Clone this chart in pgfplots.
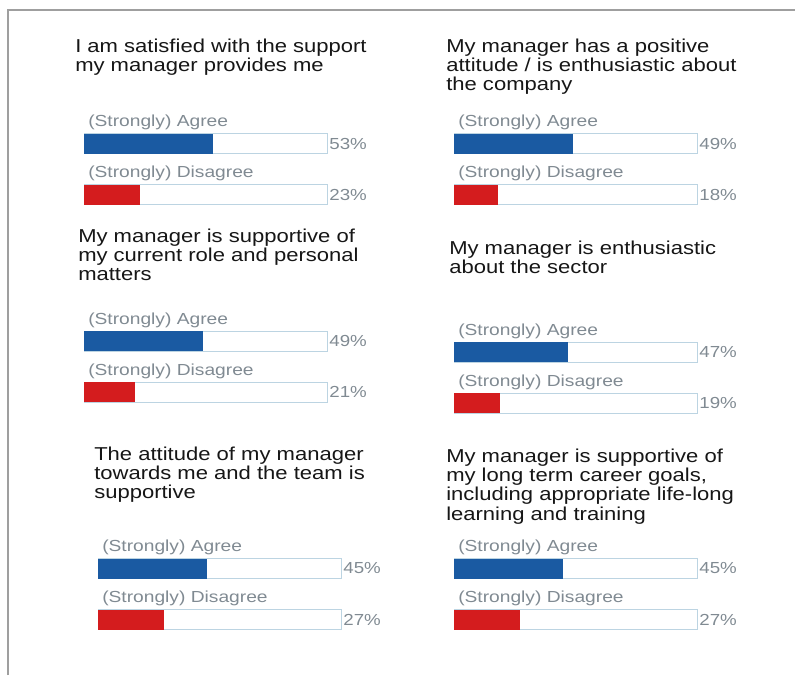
\documentclass[border=0pt]{standalone}
\usepackage{fontspec}
\setmainfont{Liberation Sans}
\usepackage{graphicx}
\usepackage{pgfplots}
\pgfplotsset{compat=1.18}

\definecolor{agreec}{RGB}{26,90,162}
\definecolor{disc}{RGB}{212,28,30}
\definecolor{trackc}{RGB}{188,212,226}
\definecolor{labc}{RGB}{128,138,146}
\definecolor{ttlc}{RGB}{22,22,22}

\pgfplotsset{
  panel/.style={
    anchor=south west, scale only axis,
    width=182.25pt, height=76.5pt,
    xmin=0, xmax=100, ymin=-0.5, ymax=1.5,
    hide axis, clip=false,
    xbar, bar width=15pt, bar shift=0pt,
  },
  track/.style={fill=white, draw=trackc, line width=0.6pt,
    point meta=explicit symbolic,
    nodes near coords={\scalebox{1.17}[1]{\pgfplotspointmeta\%}},
    nodes near coords style={anchor=west, inner sep=1.5pt, text=labc,
      font=\fontsize{12}{12}\selectfont}},
  agreebar/.style={fill=agreec, draw=none},
  disbar/.style={fill=disc, draw=none},
}
\tikzset{
  ttl/.style={anchor=base west, inner sep=0pt, text=ttlc,
    font=\fontsize{14}{14.6}\selectfont},
  lab/.style={anchor=base west, inner sep=0pt, text=labc,
    font=\fontsize{12}{12}\selectfont},
}
\newcommand{\ttltext}[1]{\scalebox{1.18}[1]{\begin{tabular}[t]{@{}l@{}}#1\end{tabular}}}
\newcommand{\labtext}[1]{\scalebox{1.2}[1]{#1}}

\begin{document}
\begin{tikzpicture}[x=0.75pt, y=-0.75pt]
\useasboundingbox (0,0) rectangle (795,675);
\draw[gray!75, line width=1.1pt] (8,675) -- (8,10) -- (795,10);

% top left
\node[ttl] at (75,52) {\ttltext{I am satisfied with the support\\my manager provides me}};
\begin{axis}[panel, at={(84*0.75pt,-220*0.75pt)}]
  \addplot[track] coordinates {(100,1) [53] (100,0) [23]};
  \addplot[agreebar] coordinates {(53,1)};
  \addplot[disbar] coordinates {(23,0)};
  \node[lab] at ([xshift=3pt,yshift=12.75pt]axis cs:0,1) {\labtext{(Strongly) Agree}};
  \node[lab] at ([xshift=3pt,yshift=12.75pt]axis cs:0,0) {\labtext{(Strongly) Disagree}};
\end{axis}

% top right
\node[ttl] at (446,52) {\ttltext{My manager has a positive\\attitude / is enthusiastic about\\the company}};
\begin{axis}[panel, at={(454*0.75pt,-220*0.75pt)}]
  \addplot[track] coordinates {(100,1) [49] (100,0) [18]};
  \addplot[agreebar] coordinates {(49,1)};
  \addplot[disbar] coordinates {(18,0)};
  \node[lab] at ([xshift=3pt,yshift=12.75pt]axis cs:0,1) {\labtext{(Strongly) Agree}};
  \node[lab] at ([xshift=3pt,yshift=12.75pt]axis cs:0,0) {\labtext{(Strongly) Disagree}};
\end{axis}

% middle left
\node[ttl] at (78,242) {\ttltext{My manager is supportive of\\my current role and personal\\matters}};
\begin{axis}[panel, at={(84*0.75pt,-417.5*0.75pt)}]
  \addplot[track] coordinates {(100,1) [49] (100,0) [21]};
  \addplot[agreebar] coordinates {(49,1)};
  \addplot[disbar] coordinates {(21,0)};
  \node[lab] at ([xshift=3pt,yshift=12.75pt]axis cs:0,1) {\labtext{(Strongly) Agree}};
  \node[lab] at ([xshift=3pt,yshift=12.75pt]axis cs:0,0) {\labtext{(Strongly) Disagree}};
\end{axis}

% middle right
\node[ttl] at (449,254) {\ttltext{My manager is enthusiastic\\about the sector}};
\begin{axis}[panel, at={(454*0.75pt,-428.5*0.75pt)}]
  \addplot[track] coordinates {(100,1) [47] (100,0) [19]};
  \addplot[agreebar] coordinates {(47,1)};
  \addplot[disbar] coordinates {(19,0)};
  \node[lab] at ([xshift=3pt,yshift=12.75pt]axis cs:0,1) {\labtext{(Strongly) Agree}};
  \node[lab] at ([xshift=3pt,yshift=12.75pt]axis cs:0,0) {\labtext{(Strongly) Disagree}};
\end{axis}

% bottom left
\node[ttl] at (94,460) {\ttltext{The attitude of my manager\\towards me and the team is\\supportive}};
\begin{axis}[panel, at={(98*0.75pt,-645*0.75pt)}]
  \addplot[track] coordinates {(100,1) [45] (100,0) [27]};
  \addplot[agreebar] coordinates {(45,1)};
  \addplot[disbar] coordinates {(27,0)};
  \node[lab] at ([xshift=3pt,yshift=12.75pt]axis cs:0,1) {\labtext{(Strongly) Agree}};
  \node[lab] at ([xshift=3pt,yshift=12.75pt]axis cs:0,0) {\labtext{(Strongly) Disagree}};
\end{axis}

% bottom right
\node[ttl] at (446,462) {\ttltext{My manager is supportive of\\my long term career goals,\\including appropriate life-long\\learning and training}};
\begin{axis}[panel, at={(454*0.75pt,-645*0.75pt)}]
  \addplot[track] coordinates {(100,1) [45] (100,0) [27]};
  \addplot[agreebar] coordinates {(45,1)};
  \addplot[disbar] coordinates {(27,0)};
  \node[lab] at ([xshift=3pt,yshift=12.75pt]axis cs:0,1) {\labtext{(Strongly) Agree}};
  \node[lab] at ([xshift=3pt,yshift=12.75pt]axis cs:0,0) {\labtext{(Strongly) Disagree}};
\end{axis}
\end{tikzpicture}
\end{document}
